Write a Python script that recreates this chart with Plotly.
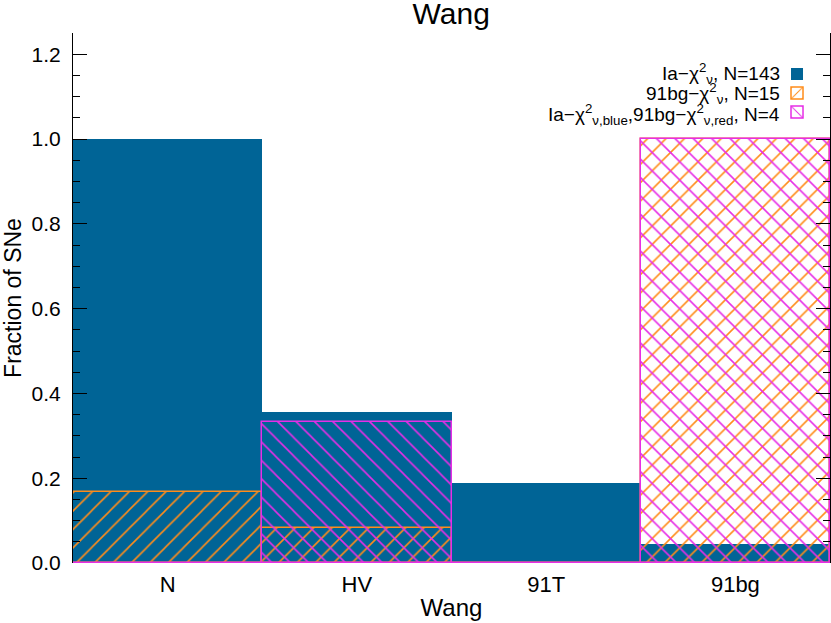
import plotly.graph_objects as go

# histogram fractions per Wang class
categories = ['N', 'HV', '91T', '91bg']
ia_frac = [1.0, 0.357, 0.189, 0.045]
bg_frac = [0.167, 0.083, 0.0, 1.0]
mixed_frac = [0.0, 0.333, 0.0, 1.0]

labels = [
    'Ia−χ<sup>2</sup><sub>ν</sub>, N=143',
    '91bg−χ<sup>2</sup><sub>ν</sub>, N=15',
    'Ia−χ<sup>2</sup><sub>ν,blue</sub>,91bg−χ<sup>2</sup><sub>ν,red</sub>, N=4',
]

blue = '#006496'
orange = '#FF8C1A'
magenta = '#E62EE6'
font = 'Liberation Sans, Arial, sans-serif'

fig = go.Figure()
fig.add_trace(go.Bar(x=categories, y=ia_frac, name=' ', width=1,
                     marker=dict(color=blue, line=dict(width=0))))
fig.add_trace(go.Bar(x=categories, y=bg_frac, name=' ', width=1,
                     marker=dict(color='rgba(0,0,0,0)', line=dict(color=orange, width=1.5),
                                 pattern=dict(shape='/', fgcolor=orange, bgcolor='rgba(0,0,0,0)',
                                              size=13, solidity=0.12, fgopacity=1))))
fig.add_trace(go.Bar(x=categories, y=mixed_frac, name=' ', width=1,
                     marker=dict(color='rgba(0,0,0,0)', line=dict(color=magenta, width=1.5),
                                 pattern=dict(shape='\\', fgcolor=magenta, bgcolor='rgba(0,0,0,0)',
                                              size=13, solidity=0.12, fgopacity=1))))

# legend text, right aligned to the left of the swatches
for i, txt in enumerate(labels):
    fig.add_annotation(text=txt, xref='paper', yref='paper', x=0.937, y=0.9245 - i * 0.039,
                       xanchor='right', yanchor='middle', showarrow=False,
                       font=dict(size=19, color='black', family=font))

fig.update_layout(
    width=831, height=623,
    barmode='overlay', bargap=0,
    plot_bgcolor='white', paper_bgcolor='white',
    margin=dict(l=73, r=1, t=33, b=60),
    font=dict(family=font, size=21, color='black'),
    title=dict(text='Wang', x=0.543, xanchor='center', y=0.978, yanchor='middle',
               font=dict(size=30)),
    showlegend=True,
    legend=dict(x=0.93, xanchor='left', y=0.95, yanchor='top', bgcolor='rgba(0,0,0,0)',
                font=dict(size=12), itemwidth=30),
)
fig.update_xaxes(title=dict(text='Wang', standoff=3, font=dict(size=24)), range=[-0.5, 3.5],
                 showline=False, showgrid=False, ticks='', zeroline=False,
                 automargin=False, ticklabelstandoff=6, tickfont=dict(size=22))
fig.update_yaxes(title=dict(text='Fraction of SNe', standoff=10, font=dict(size=23)),
                 range=[0, 1.25], automargin=False, ticklabelstandoff=7,
                 dtick=0.2, tickformat='.1f', showgrid=False, zeroline=False,
                 showline=True, linecolor='black', linewidth=1, mirror='ticks',
                 ticks='inside', ticklen=14, tickcolor='black',
                 minor=dict(dtick=0.05, ticks='inside', ticklen=7, tickcolor='black'))

# drop the browser's default body margin so the figure sits at the page corner
fig.write_html('out.html', config={'displayModeBar': False},
               post_script="document.body.style.margin='0';")
